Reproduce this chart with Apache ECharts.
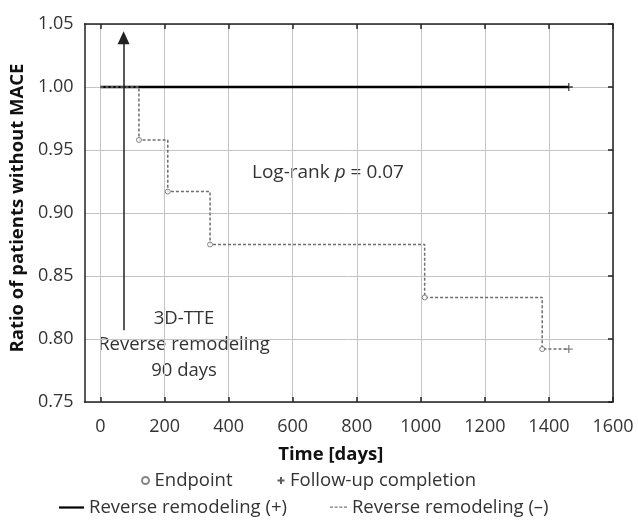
<!DOCTYPE html>
<html><head><meta charset="utf-8">
<script src="https://cdn.jsdelivr.net/npm/echarts@6/dist/echarts.min.js"></script>
<style>html,body{margin:0;padding:0;background:#fff}#c{width:638px;height:521px}</style>
</head><body><div id="c"></div>
<script>
// ---- data ----
const xTicks = [0, 200, 400, 600, 800, 1000, 1200, 1400, 1600];
const yTicks = [0.75, 0.80, 0.85, 0.90, 0.95, 1.00, 1.05];
const plusTimes = [0, 1462];
const plusSurv = [1.0, 1.0];
const minusTimes = [0, 120, 210, 342, 1012, 1379, 1462];
const minusSurv = [1.0, 0.958, 0.917, 0.875, 0.833, 0.792, 0.792];
const endpointIdx = [1, 2, 3, 4, 5];      // events on (–) curve
const arrowX = 72, arrowFrom = 0.807, arrowTo = 1.039;

const FONT = 'Open Sans';
const TXT = '#333';
const FS = 18.5;

const plusData = plusTimes.map((t, i) => [t, plusSurv[i]]);
const minusData = minusTimes.map((t, i) => [t, minusSurv[i]]);
const endpointData = endpointIdx.map(i => [minusTimes[i], minusSurv[i]]);
const followData = [
  {value: [plusTimes[plusTimes.length - 1], plusSurv[plusSurv.length - 1]], itemStyle: {borderColor: '#111'}},
  {value: [minusTimes[minusTimes.length - 1], minusSurv[minusSurv.length - 1]], itemStyle: {borderColor: '#666'}}
];

const solidIcon = 'path://M0,4h25v2.2h-25z';
const dashedIcon = 'path://M0,4.6h0.01v0.01h-0.01zM8,4h3v1.4h-3zM12.7,4h3v1.4h-3zM17.4,4h3v1.4h-3zM22,4h3v1.4h-3zM0,6.2h0.01v0.01h-0.01z';

const axisLineStyle = {show: true, onZero: false, lineStyle: {color: '#222', width: 1.5}};

const chart = echarts.init(document.getElementById('c'), null, {renderer: 'canvas'});
const option = {
  animation: false,
  textStyle: {fontFamily: FONT},
  grid: {left: 84, right: 25, top: 24, bottom: 119},
  xAxis: [{
    type: 'value', min: -50, max: 1600, position: 'bottom',
    name: 'Time [days]', nameLocation: 'middle', nameGap: 43,
    nameTextStyle: {fontFamily: FONT, fontSize: FS, fontWeight: 'bold', color: '#111', padding: [0, 36, 0, 0]},
    axisLine: axisLineStyle,
    axisTick: {show: true, inside: true, length: 5, customValues: xTicks, lineStyle: {color: '#222', width: 1.5}},
    axisLabel: {customValues: xTicks, margin: 16, fontSize: 18, color: TXT, fontFamily: FONT, formatter: v => String(v)},
    splitLine: {show: true, lineStyle: {color: '#c4c4c4', width: 1}}
  }, {
    type: 'value', min: -50, max: 1600, position: 'top',
    axisLine: axisLineStyle,
    axisTick: {show: true, inside: true, length: 5, customValues: xTicks, lineStyle: {color: '#222', width: 1.5}},
    axisLabel: {show: false},
    splitLine: {show: false}
  }],
  yAxis: [{
    type: 'value', min: 0.75, max: 1.05, interval: 0.05, position: 'left',
    name: 'Ratio of patients without MACE', nameLocation: 'middle', nameGap: 54,
    nameTextStyle: {fontFamily: FONT, fontSize: FS, fontWeight: 'bold', color: '#111', padding: [0, 0, 0, 10]},
    axisLine: axisLineStyle,
    axisTick: {show: false},
    axisLabel: {margin: 11, fontSize: 18, color: TXT, fontFamily: FONT, formatter: v => v.toFixed(2)},
    splitLine: {show: true, lineStyle: {color: '#c4c4c4', width: 1}}
  }, {
    type: 'value', min: 0.75, max: 1.05, interval: 0.05, position: 'right',
    axisLine: axisLineStyle,
    axisTick: {show: true, inside: true, length: 5, lineStyle: {color: '#222', width: 1.5}},
    axisLabel: {show: false},
    splitLine: {show: false}
  }],
  legend: [{
    left: 136, top: 466, itemGap: 44, itemWidth: 8, itemHeight: 7,
    textStyle: {fontFamily: FONT, fontSize: FS, color: TXT},
    data: ['Endpoint', 'Follow-up completion']
  }, {
    left: 54, top: 493, itemGap: 35, itemWidth: 25, itemHeight: 10,
    textStyle: {fontFamily: FONT, fontSize: FS, color: TXT},
    data: [
      {name: 'Reverse remodeling (+)', icon: solidIcon, itemStyle: {color: '#000'}},
      {name: 'Reverse remodeling (–)', icon: dashedIcon, itemStyle: {color: '#777'}}
    ]
  }],
  series: [{
    name: 'Reverse remodeling (+)', type: 'line', data: plusData,
    symbol: 'none', lineStyle: {color: '#000', width: 2.4}, itemStyle: {color: '#000'}, z: 3,
    markLine: {
      silent: true, symbol: ['none', 'triangle'], symbolSize: [12, 13],
      label: {show: false},
      lineStyle: {color: '#222', width: 1.5, type: 'solid'},
      data: [[{coord: [arrowX, arrowFrom]}, {coord: [arrowX, arrowTo]}]]
    }
  }, {
    name: 'Reverse remodeling (–)', type: 'line', step: 'end', data: minusData,
    symbol: 'none', lineStyle: {color: '#6e6e6e', width: 1.5, type: [3, 2]}, itemStyle: {color: '#777'}, z: 4
  }, {
    name: 'Endpoint', type: 'scatter', data: endpointData,
    symbol: 'circle', symbolSize: 5,
    itemStyle: {color: '#fff', borderColor: '#666', borderWidth: 1}, z: 6
  }, {
    name: 'Follow-up completion', type: 'scatter', data: followData,
    symbol: 'path://M0,5L10,5M5,0L5,10', symbolSize: 8,
    itemStyle: {color: 'transparent', borderColor: '#333', borderWidth: 1.3}, z: 6
  }],
  graphic: [
    {type: 'text', left: 252, top: 163, style: {
      text: '{a|Log-rank }{i|p}{a| = 0.07}',
      rich: {a: {fontFamily: FONT, fontSize: 19, fill: TXT}, i: {fontFamily: FONT, fontSize: 19, fontStyle: 'italic', fill: TXT}}
    }},
    {type: 'text', x: 184, y: 319, style: {text: '3D-TTE', fontFamily: FONT, fontSize: FS, fill: TXT, align: 'center', verticalAlign: 'middle'}},
    {type: 'text', x: 184, y: 345, style: {text: 'Reverse remodeling', fontFamily: FONT, fontSize: FS, fill: TXT, align: 'center', verticalAlign: 'middle'}},
    {type: 'text', x: 184, y: 371, style: {text: '90 days', fontFamily: FONT, fontSize: FS, fill: TXT, align: 'center', verticalAlign: 'middle'}}
  ]
};
chart.setOption(option);
</script>
</body></html>
